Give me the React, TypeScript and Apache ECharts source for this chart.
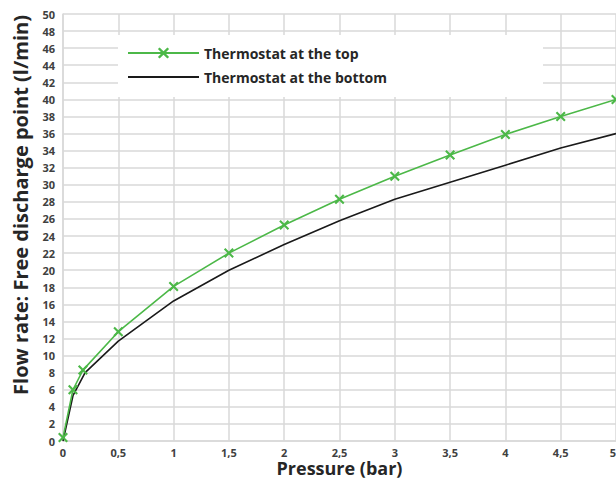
import React, { useEffect, useRef } from "react";
import * as echarts from "echarts";

const pressureTop = [0, 0.09, 0.18, 0.5, 1, 1.5, 2, 2.5, 3, 3.5, 4, 4.5, 5];
const flowTop = [0.4, 6, 8.3, 12.8, 18.1, 22, 25.3, 28.3, 31, 33.5, 35.9, 38, 40];
const pressureBottom = [0, 0.09, 0.2, 0.5, 1, 1.5, 2, 2.5, 3, 3.5, 4, 4.5, 5];
const flowBottom = [0, 5.3, 8.0, 11.7, 16.4, 20, 23, 25.8, 28.3, 30.3, 32.3, 34.3, 36];
const seriesNames = ["Thermostat at the top", "Thermostat at the bottom"];
const xAxisTitle = "Pressure (bar)";
const yAxisTitle = "Flow rate: Free discharge point (l/min)";

const FONT = "'Open Sans', 'Noto Sans', sans-serif";
const GREEN = "#4cb848";
const BLACK = "#1a1a1a";
const GRID = "#d9d9d9";
const CLEAR = "rgba(0,0,0,0)";
const X_SYMBOL =
  "path://M0,1.5 L1.5,0 L5,3.5 L8.5,0 L10,1.5 L6.5,5 L10,8.5 L8.5,10 L5,6.5 L1.5,10 L0,8.5 L3.5,5 Z";

export default function App() {
  const ref = useRef<HTMLDivElement>(null);
  useEffect(() => {
    document.body.style.margin = "0";
    const chart = echarts.init(ref.current!, null, { renderer: "svg" });
    chart.setOption({
      animation: false,
      backgroundColor: "#ffffff",
      textStyle: { fontFamily: FONT },
      grid: {
        left: 63,
        top: 14,
        right: 0,
        bottom: 39,
        containLabel: false,
        outerBoundsMode: "none",
      },
      legend: {
        orient: "vertical",
        left: 118,
        top: 35,
        data: [
          { name: seriesNames[0] },
          { name: seriesNames[1], itemStyle: { color: CLEAR, borderWidth: 0 } },
        ],
        backgroundColor: "#ffffff",
        padding: [11, 156, 13, 9],
        itemWidth: 71,
        itemHeight: 14,
        itemGap: 10,
        textStyle: { fontFamily: FONT, fontWeight: "bold", fontSize: 14, color: "#262626" },
      },
      xAxis: {
        type: "value",
        min: 0,
        max: 5,
        interval: 0.5,
        axisLine: { show: true, lineStyle: { color: GRID, width: 1.5 } },
        axisTick: { show: false },
        splitLine: { show: true, lineStyle: { color: GRID, width: 1.5 } },
        axisLabel: {
          margin: 5,
          fontSize: 11,
          lineHeight: 12,
          fontWeight: "bold",
          color: "#404040",
          fontFamily: FONT,
          alignMaxLabel: "right",
          formatter: (v: number) => String(v).replace(".", ","),
        },
        name: xAxisTitle,
        nameLocation: "middle",
        nameGap: 18,
        nameMoveOverlap: false,
        nameTextStyle: {
          fontSize: 18,
          lineHeight: 18,
          fontWeight: "bold",
          color: "#262626",
          fontFamily: FONT,
        },
      },
      yAxis: {
        type: "value",
        min: 0,
        max: 50,
        interval: 2,
        axisLine: { show: true, lineStyle: { color: GRID, width: 1.5 } },
        axisTick: { show: false },
        splitLine: { show: true, lineStyle: { color: GRID, width: 1.5 } },
        axisLabel: {
          margin: 8,
          fontSize: 11,
          fontWeight: "bold",
          color: "#404040",
          fontFamily: FONT,
        },
      },
      graphic: [
        {
          type: "text",
          x: 20,
          y: 205,
          rotation: Math.PI / 2,
          style: {
            text: yAxisTitle,
            textAlign: "center",
            textVerticalAlign: "middle",
            font: `bold 20px ${FONT}`,
            fill: "#262626",
          },
        },
      ],
      series: [
        {
          name: seriesNames[0],
          type: "line",
          data: pressureTop.map((p, i) => [p, flowTop[i]]),
          symbol: X_SYMBOL,
          symbolSize: 10,
          showAllSymbol: true,
          lineStyle: { color: GREEN, width: 1.6 },
          itemStyle: { color: GREEN },
          z: 3,
        },
        {
          name: seriesNames[1],
          type: "line",
          data: pressureBottom.map((p, i) => [p, flowBottom[i]]),
          symbol: "none",
          lineStyle: { color: BLACK, width: 1.6 },
          itemStyle: { color: CLEAR },
          z: 2,
        },
      ],
    });
    return () => chart.dispose();
  }, []);
  return <div ref={ref} style={{ width: 616, height: 480 }} />;
}
